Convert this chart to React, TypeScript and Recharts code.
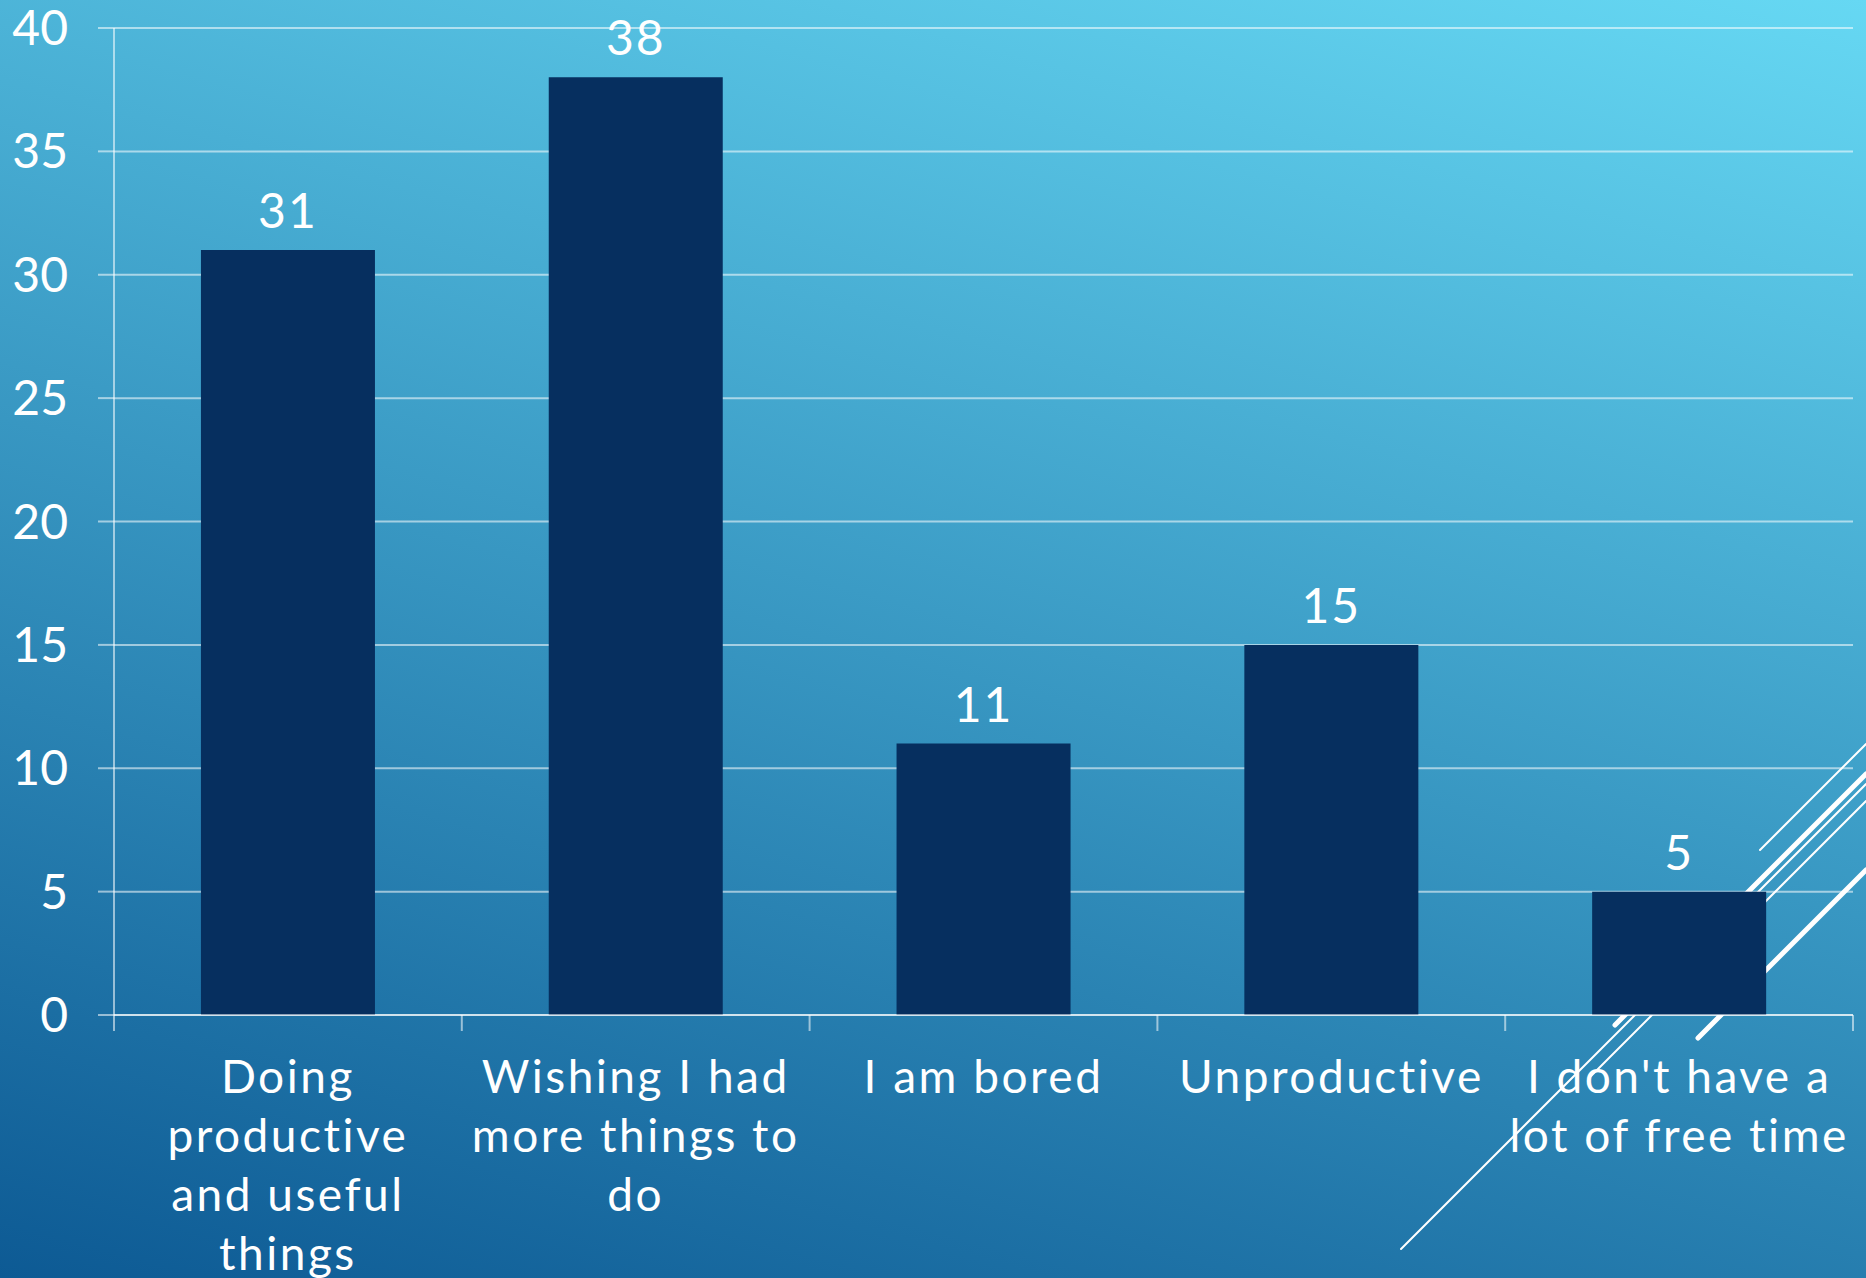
import React from 'react';
import { BarChart, Bar, XAxis, YAxis, CartesianGrid, LabelList } from 'recharts';

// answers to "How do you feel about your free time?"
const categories = [
  'Doing\nproductive\nand useful\nthings',
  'Wishing I had\nmore things to\ndo',
  'I am bored',
  'Unproductive',
  "I don't have a\nlot of free time",
];
const responses = [31, 38, 11, 15, 5];
const yTicks = [0, 5, 10, 15, 20, 25, 30, 35, 40];

const data = categories.map((name, i) => ({ name, value: responses[i] }));

const FONT = "Lato, 'DejaVu Sans', sans-serif";
const LINE = 'rgba(255,255,255,0.55)';

// label lines + tick marks on the category boundaries
const CategoryTick = ({ x, y, payload, index, visibleTicksCount, width }: any) => {
  const lines = String(payload.value).split('\n');
  const half = payload.offset ?? width / visibleTicksCount / 2;
  const last = index === visibleTicksCount - 1;
  return (
    <g>
      <line x1={x - half} y1={y} x2={x - half} y2={y + 16} stroke={LINE} strokeWidth={2} />
      {last && <line x1={x + half} y1={y} x2={x + half} y2={y + 16} stroke={LINE} strokeWidth={2} />}
      <text
        x={x}
        y={y + 78}
        textAnchor="middle"
        fill="#fff"
        fontSize={46}
        fontFamily={FONT}
        letterSpacing={2.5}
      >
        {lines.map((l, i) => (
          <tspan key={i} x={x} dy={i === 0 ? 0 : 59}>
            {l}
          </tspan>
        ))}
      </text>
    </g>
  );
};

// slide theme decoration (bottom right streaks)
const Streaks = () => (
  <svg width={1866} height={1278} style={{ position: 'absolute', left: 0, top: 0 }}>
    <g stroke="#fff" strokeLinecap="round">
      <line x1={1760} y1={850} x2={1866} y2={744} strokeWidth={2} />
      <line x1={1401} y1={1249} x2={1866} y2={784} strokeWidth={2} />
      <line x1={1589} y1={1078} x2={1866} y2={801} strokeWidth={2} />
      <line x1={1615} y1={1025} x2={1866} y2={774} strokeWidth={5} />
      <line x1={1698} y1={1038} x2={1866} y2={870} strokeWidth={5} />
    </g>
  </svg>
);

export default function App() {
  return (
    <div
      style={{
        position: 'absolute',
        left: 0,
        top: 0,
        width: 1866,
        height: 1278,
        overflow: 'hidden',
        background: 'linear-gradient(195deg, #66D8F3 0%, #0D5A94 100%)',
      }}
    >
      <Streaks />
      <div style={{ position: 'absolute', left: 0, top: 0 }}>
        <BarChart
          width={1866}
          height={1278}
          data={data}
          margin={{ top: 28, right: 13, bottom: 0, left: 0 }}
          barCategoryGap="25%"
        >
          <CartesianGrid vertical={false} stroke={LINE} strokeWidth={2} />
          <XAxis
            dataKey="name"
            interval={0}
            height={263}
            tickSize={0}
            tickMargin={0}
            tickLine={false}
            axisLine={{ stroke: LINE, strokeWidth: 2 }}
            tick={<CategoryTick />}
          />
          <YAxis
            width={114}
            domain={[0, 40]}
            ticks={yTicks}
            interval={0}
            tickSize={16}
            tickMargin={30}
            axisLine={{ stroke: LINE, strokeWidth: 2 }}
            tickLine={{ stroke: LINE, strokeWidth: 2 }}
            tick={{ fill: '#fff', fontSize: 48, fontFamily: FONT }}
          />
          <Bar dataKey="value" fill="#062F5F" isAnimationActive={false}>
            <LabelList
              dataKey="value"
              position="top"
              offset={22}
              fill="#fff"
              fontSize={48}
              fontFamily={FONT}
              letterSpacing={2}
            />
          </Bar>
        </BarChart>
      </div>
    </div>
  );
}
